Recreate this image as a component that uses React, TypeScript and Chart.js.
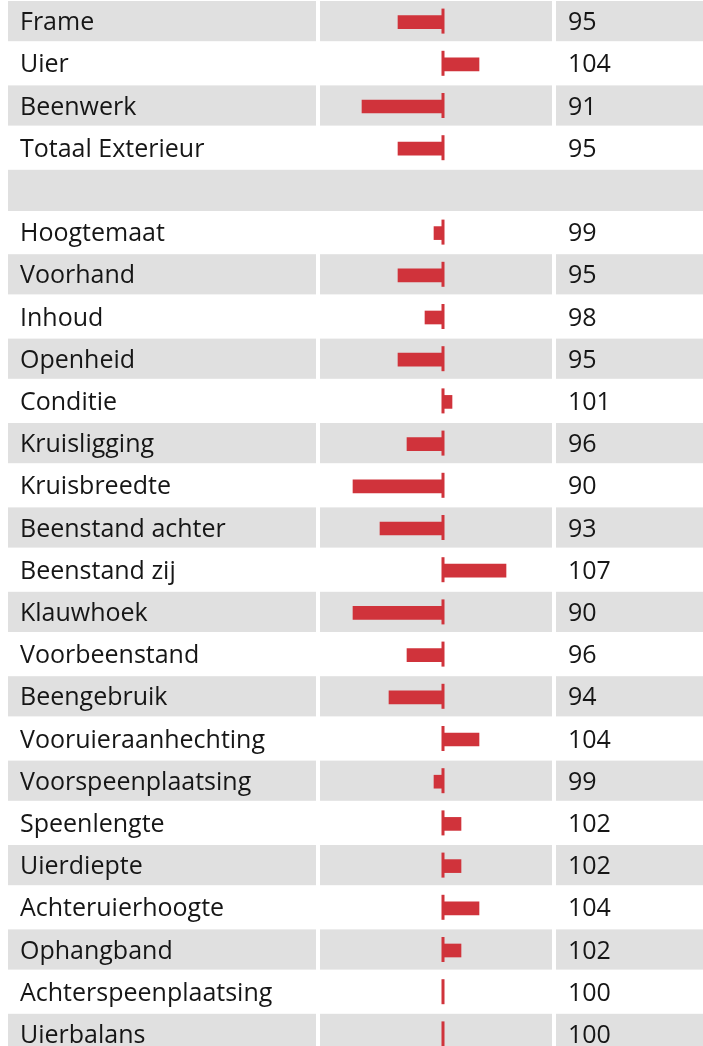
import React, { useEffect, useRef } from "react";
import { Chart, registerables } from "chart.js";

Chart.register(...registerables);

const labels: string[] = [
  "Frame",
  "Uier",
  "Beenwerk",
  "Totaal Exterieur",
  "",
  "Hoogtemaat",
  "Voorhand",
  "Inhoud",
  "Openheid",
  "Conditie",
  "Kruisligging",
  "Kruisbreedte",
  "Beenstand achter",
  "Beenstand zij",
  "Klauwhoek",
  "Voorbeenstand",
  "Beengebruik",
  "Vooruieraanhechting",
  "Voorspeenplaatsing",
  "Speenlengte",
  "Uierdiepte",
  "Achteruierhoogte",
  "Ophangband",
  "Achterspeenplaatsing",
  "Uierbalans",
];

const values: (number | null)[] = [
  95, 104, 91, 95, null, 99, 95, 98, 95, 101, 96, 90, 93, 107, 90, 96, 94, 104,
  99, 102, 102, 104, 102, 100, 100,
];

const baseValue = 100;
const xMin = 87;
const xMax = 112;

const RED = "#d0333b";
const GREY = "#e0e0e0";
const TEXT = "#161616";
const FONT = '25px "Open Sans", "Noto Sans", sans-serif';

const W = 703;
const H = 1060;

const tablePlugin = {
  id: "tablePlugin",
  beforeDatasetsDraw(chart: any) {
    const { ctx, scales } = chart;
    const y = scales.y;
    const n = labels.length;
    const band = (y.bottom - y.top) / n;
    ctx.save();
    ctx.fillStyle = GREY;
    for (let i = 0; i < n; i++) {
      if (i % 2 !== 0) continue;
      const c = y.getPixelForValue(i);
      const top = c - band / 2;
      const h = band - 2;
      if (labels[i] === "") {
        ctx.fillRect(8, top, W - 8, h + 1);
      } else {
        ctx.fillRect(8, top, 308, h);
        ctx.fillRect(320, top, 232, h);
        ctx.fillRect(556, top, W - 556, h);
      }
    }
    ctx.restore();
  },
  afterDatasetsDraw(chart: any) {
    const { ctx, scales } = chart;
    const y = scales.y;
    const x = scales.x;
    const n = labels.length;
    const x0 = x.getPixelForValue(baseValue);
    ctx.save();
    for (let i = 0; i < n; i++) {
      const c = y.getPixelForValue(i) - 1;
      if (values[i] != null) {
        ctx.fillStyle = RED;
        ctx.fillRect(Math.round(x0) - 1.5, c - 12.5, 3, 25);
      }
      ctx.fillStyle = TEXT;
      ctx.font = FONT;
      ctx.textBaseline = "middle";
      ctx.textAlign = "left";
      if (labels[i]) ctx.fillText(labels[i], 20, c + 2);
      if (values[i] != null) ctx.fillText(String(values[i]), 568, c + 2);
    }
    ctx.restore();
  },
};

export default function App() {
  const ref = useRef<HTMLCanvasElement | null>(null);
  useEffect(() => {
    if (!ref.current) return;
    const padLeft = 443 - (baseValue - xMin) * 9;
    const padRight = W - (443 + (xMax - baseValue) * 9);
    const chart = new Chart(ref.current, {
      type: "bar",
      data: {
        labels,
        datasets: [
          {
            data: values.map((v) => (v == null ? null : [baseValue, v])) as any,
            backgroundColor: RED,
            borderWidth: 0,
            barThickness: 13,
          },
        ],
      },
      options: {
        indexAxis: "y",
        responsive: false,
        animation: false,
        devicePixelRatio: 1,
        layout: {
          padding: { left: padLeft, right: padRight, top: 1, bottom: H - 1 - labels.length * 42.2 },
        },
        plugins: {
          legend: { display: false },
          tooltip: { enabled: false },
        },
        scales: {
          x: { type: "linear", min: xMin, max: xMax, display: false },
          y: { type: "category", display: false, offset: true },
        },
      },
      plugins: [tablePlugin],
    });
    return () => chart.destroy();
  }, []);
  return (
    <div style={{ position: "absolute", left: 0, top: 0, width: W, height: H }}>
      <canvas ref={ref} width={W} height={H} style={{ display: "block" }} />
    </div>
  );
}
